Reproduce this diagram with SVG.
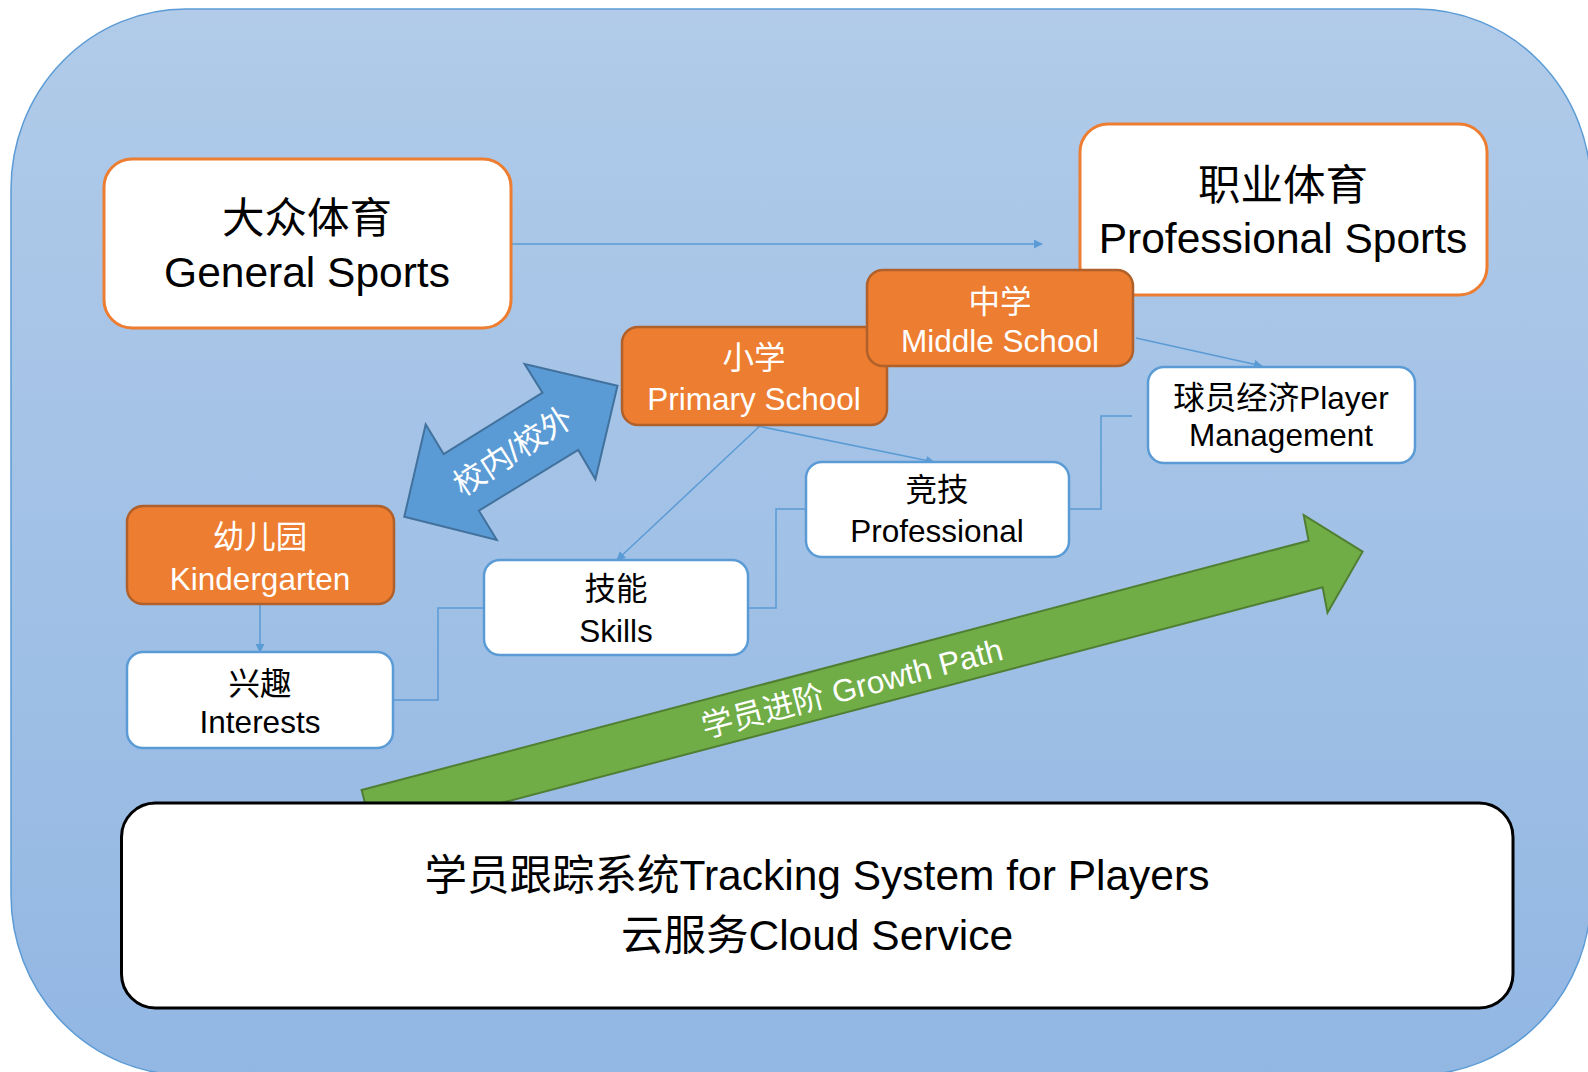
<svg xmlns="http://www.w3.org/2000/svg" width="1588" height="1072" viewBox="0 0 1588 1072">
<defs>
<linearGradient id="bg" x1="0" y1="0" x2="0" y2="1">
<stop offset="0" stop-color="#B1CBE9"/>
<stop offset="1" stop-color="#92B7E3"/>
</linearGradient>
<marker id="ah" viewBox="0 0 10 10" refX="9" refY="5" markerWidth="9" markerHeight="9" markerUnits="userSpaceOnUse" orient="auto">
<path d="M0,0 L10,5 L0,10 Z" fill="#5B9BD5"/>
</marker>
</defs>
<style>
text{font-family:"Liberation Sans","Noto Sans CJK SC",sans-serif;text-anchor:middle;}
.big{font-size:42.5px;fill:#000;}
.mid{font-size:31.5px;fill:#000;}
.wt{fill:#fff;}
.big-box{fill:#fff;stroke:#ED7D31;stroke-width:3;}
.org{fill:#ED7D31;stroke:#B0602A;stroke-width:2.5;}
.wbox{fill:#fff;stroke:#5B9BD5;stroke-width:2.5;}
.con{fill:none;stroke:#5B9BD5;stroke-width:1.5;}
</style>
<rect id="background" x="11" y="9" width="1580" height="1066" rx="175" ry="180" fill="url(#bg)" stroke="#5B9BD5" stroke-width="1.5"/>
<g id="connectors">
<path class="con" d="M511,244 H1042" marker-end="url(#ah)"/>
<path class="con" d="M260,604 V652" marker-end="url(#ah)"/>
<path class="con" d="M393,700 H438 V608 H484"/>
<path class="con" d="M748,608 H776 V509 H806"/>
<path class="con" d="M1069,509 H1101 V416 H1132"/>
<path class="con" d="M761,425 L617,560" marker-end="url(#ah)"/>
<path class="con" d="M748,424 L934,462" marker-end="url(#ah)"/>
<path class="con" d="M1136,338 L1262,366" marker-end="url(#ah)"/>
</g>
<g id="growth-arrow">
<polygon points="361.6,790 1308.6,540.7 1303.7,515 1362.6,551.7 1327.5,612.7 1322.6,587.3 373.8,836.4" fill="#70AD47" stroke="#507E32" stroke-width="2"/>
<text class="wt" font-size="31.5" dominant-baseline="central" transform="translate(852,688) rotate(-14.7)">学员进阶 Growth Path</text>
</g>
<g id="school-arrow">
<polygon points="617.5,385.7 524.6,364 542.5,392.7 443.6,454 425.7,424.3 404.3,516.7 496.8,540 478.9,510.7 578.2,450 595.4,479.3" fill="#5B9BD5" stroke="#41719C" stroke-width="2"/>
<text class="wt" font-size="31.5" dominant-baseline="central" transform="translate(513,451) rotate(-33)">校内/校外</text>
</g>
<g id="general-sports">
<rect class="big-box" x="104" y="159" width="407" height="169" rx="28"/>
<text class="big" x="307" y="233">大众体育</text>
<text class="big" x="307" y="287">General Sports</text>
</g>
<g id="professional-sports">
<rect class="big-box" x="1080" y="124" width="407" height="171" rx="28"/>
<text class="big" x="1283" y="200">职业体育</text>
<text class="big" x="1283" y="253">Professional Sports</text>
</g>
<g id="primary-school">
<rect class="org" x="622" y="327" width="265" height="98" rx="16"/>
<text class="mid wt" x="754" y="369">小学</text>
<text class="mid wt" x="754" y="410">Primary School</text>
</g>
<g id="middle-school">
<rect class="org" x="867" y="270" width="266" height="96" rx="16"/>
<text class="mid wt" x="1000" y="313">中学</text>
<text class="mid wt" x="1000" y="352">Middle School</text>
</g>
<g id="kindergarten">
<rect class="org" x="127" y="506" width="267" height="98" rx="16"/>
<text class="mid wt" x="260" y="548">幼儿园</text>
<text class="mid wt" x="260" y="590">Kindergarten</text>
</g>
<g id="interests">
<rect class="wbox" x="127" y="652" width="266" height="96" rx="16"/>
<text class="mid" x="260" y="695">兴趣</text>
<text class="mid" x="260" y="733">Interests</text>
</g>
<g id="skills">
<rect class="wbox" x="484" y="560" width="264" height="95" rx="16"/>
<text class="mid" x="616" y="600">技能</text>
<text class="mid" x="616" y="642">Skills</text>
</g>
<g id="competitive">
<rect class="wbox" x="806" y="462" width="263" height="95" rx="16"/>
<text class="mid" x="937" y="501">竞技</text>
<text class="mid" x="937" y="542">Professional</text>
</g>
<g id="player-management">
<rect class="wbox" x="1148" y="367" width="267" height="96" rx="16"/>
<text class="mid" x="1281" y="409">球员经济Player</text>
<text class="mid" x="1281" y="446">Management</text>
</g>
<g id="tracking-system">
<rect x="121.5" y="803" width="1391.5" height="205" rx="34" fill="#fff" stroke="#000" stroke-width="3"/>
<text class="big" x="817" y="890">学员跟踪系统Tracking System for Players</text>
<text class="big" x="817" y="950">云服务Cloud Service</text>
</g>
</svg>
